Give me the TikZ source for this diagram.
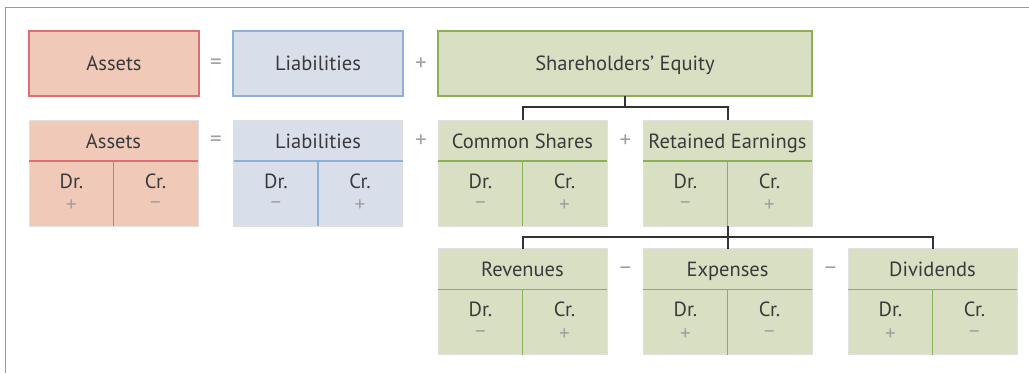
\documentclass[tikz,border=0pt]{standalone}
\usepackage{fontspec}
\setmainfont{PT Sans}
\definecolor{txt}{HTML}{3A3A3A}
\definecolor{sgn}{HTML}{A0A0A0}
\definecolor{redfill}{HTML}{F0C9B9}
\definecolor{redline}{HTML}{DD6E73}
\definecolor{bluefill}{HTML}{D8DEEA}
\definecolor{blueline}{HTML}{8EAFD6}
\definecolor{greenfill}{HTML}{D9DFC3}
\definecolor{greenline}{HTML}{8CB056}
\definecolor{conn}{HTML}{333333}
\definecolor{framec}{HTML}{9A9A9A}
\newcommand\tacct[9]{%
  \node[tbox, fill=#5, anchor=north west] (#1) at (#2,#3) {};
  \draw[#6, divline] ([yshift=-41pt]#1.north west) -- ([yshift=-41pt]#1.north east);
  \draw[#6, divline] ([yshift=-41pt]#1.north) -- (#1.south);
  \node[lab] (#1-t) at ([yshift=-21pt]#1.north) {#4};
  \node[lab] (#1-dr) at ([xshift=-42pt,yshift=-61pt]#1.north) {Dr.};
  \node[lab] (#1-cr) at ([xshift=42pt,yshift=-61pt]#1.north) {Cr.};
  \node[sg] (#1-ds) at ([xshift=-42pt,yshift=-86pt]#1.north) {#7};
  \node[sg] (#1-cs) at ([xshift=42pt,yshift=-86pt]#1.north) {#8};
}
\begin{document}
\begin{tikzpicture}[x=1pt,y=-1pt,
  lab/.style={text=txt, inner sep=0pt, text height=14pt, text depth=0pt, font=\fontsize{20.5}{24}\selectfont},
  sg/.style={text=sgn, inner sep=0pt, font=\fontsize{21}{22}\selectfont},
  op/.style={text=sgn, inner sep=0pt, font=\fontsize{23}{26}\selectfont},
  topbox/.style={rectangle, line width=1.5pt, minimum height=65pt, inner sep=0pt, outer sep=0pt, anchor=north west,
     text=txt, text height=14pt, text depth=0pt, font=\fontsize{20.5}{24}\selectfont},
  tbox/.style={rectangle, draw=black!12, line width=0.6pt, minimum width=169pt, minimum height=106pt, inner sep=0pt, outer sep=0pt},
  divline/.style={line width=1.5pt},
  connline/.style={draw=conn, line width=2pt}]
\useasboundingbox (0,0) rectangle (1029,373);
\fill[white] (0,0) rectangle (1029,373);
\draw[framec, line width=1.5pt] (5.5,373) -- (5.5,7.5) -- (1029,7.5);
% top row
\node[topbox, draw=redline, fill=redfill, minimum width=170pt] (assets) at (29,31) {Assets};
\node[topbox, draw=blueline, fill=bluefill, minimum width=170pt] (liab) at (233,31) {Liabilities};
\node[topbox, draw=greenline, fill=greenfill, minimum width=374pt] (se) at (438,31) {Shareholders’ Equity};
\node[op] (eq1) at (216,64) {=};
\node[op] (pl1) at (421,64) {+};
% second row
\tacct{a2}{29}{120}{Assets}{redfill}{redline}{+}{−}{}
\tacct{l2}{233.5}{120}{Liabilities}{bluefill}{blueline}{−}{+}{}
\tacct{cs}{438}{120}{Common Shares}{greenfill}{greenline}{−}{+}{}
\tacct{re}{643}{120}{Retained Earnings}{greenfill}{greenline}{−}{+}{}
\node[op] (eq2) at (216,141) {=};
\node[op] (pl2) at (421,141) {+};
\node[op] (pl3) at (625.5,141) {+};
% third row
\tacct{rev}{438}{248.5}{Revenues}{greenfill}{greenline}{−}{+}{}
\tacct{exp}{643}{248.5}{Expenses}{greenfill}{greenline}{+}{−}{}
\tacct{div}{848}{248.5}{Dividends}{greenfill}{greenline}{+}{−}{}
\node[op] (mi1) at (625.5,271) {−};
\node[op] (mi2) at (830.5,271) {−};
% connectors
\coordinate (h1) at (0,107);
\coordinate (j1) at (se.south |- h1);
\draw[connline] (se.south) -- (j1);
\draw[connline] (j1) -| (cs.north);
\draw[connline] (j1) -| (re.north);
\coordinate (h2) at (0,237);
\coordinate (j2) at (re.south |- h2);
\draw[connline] (re.south) -- (exp.north);
\draw[connline] (j2) -| (rev.north);
\draw[connline] (j2) -| (div.north);
\end{tikzpicture}
\end{document}
